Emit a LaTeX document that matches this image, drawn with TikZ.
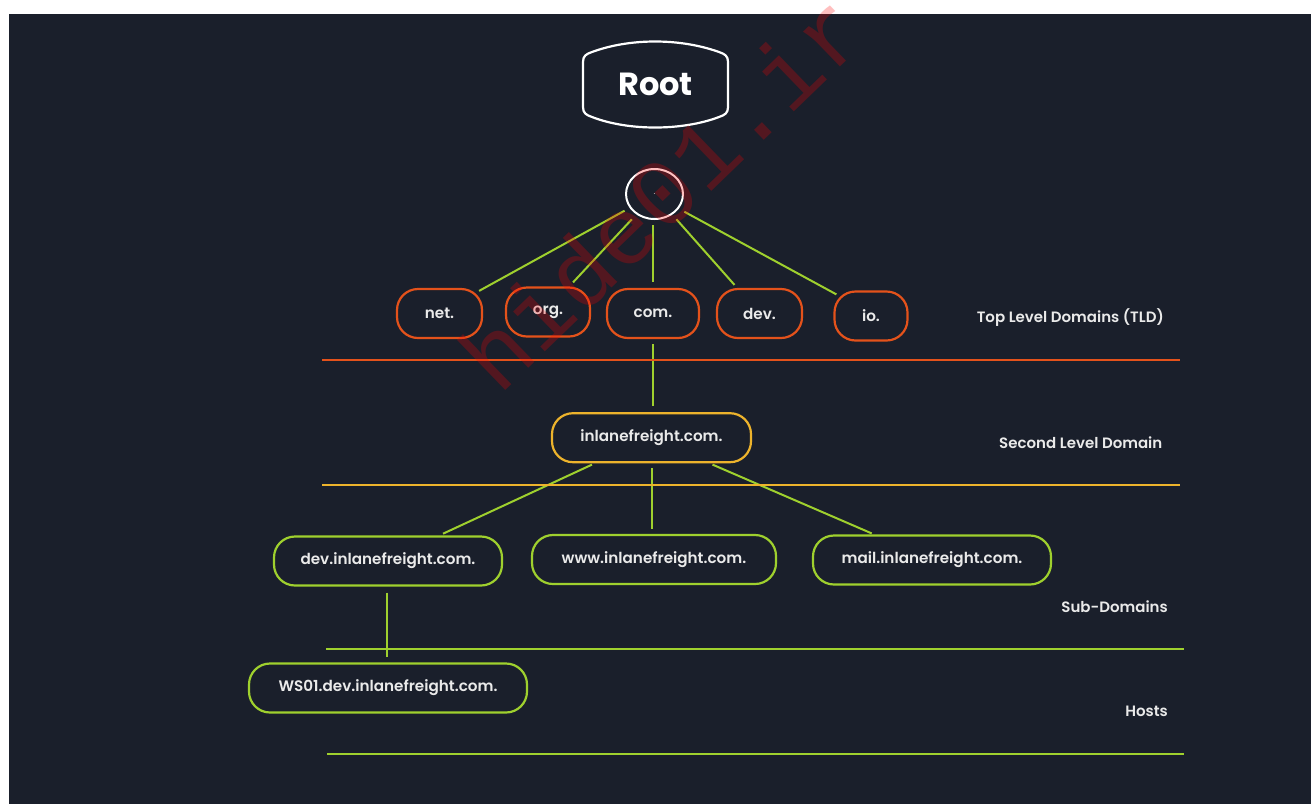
\documentclass[tikz,border=0pt]{standalone}
\usepackage{fontspec}
\setmainfont{Poppins}
\newfontfamily\pmed{Poppins Medium}
\newfontfamily\psemi{Poppins SemiBold}
\newfontfamily\wmfont{Liberation Mono}
\usetikzlibrary{calc,shapes.geometric}
\definecolor{bg}{HTML}{1A1F2B}
\definecolor{tldc}{HTML}{E4521B}
\definecolor{sldc}{HTML}{EDB32C}
\definecolor{grn}{HTML}{9FD02E}
\definecolor{txt}{HTML}{EAEAEA}
\begin{document}
\begin{tikzpicture}[x=1pt,y=-1pt,
  box/.style={draw, line width=2.2pt, rounded corners=21pt, minimum height=49pt,
    text=txt, font=\psemi\fontsize{15.2}{18}\selectfont, inner sep=0pt},
  tldbox/.style={box, draw=tldc},
  sldbox/.style={box, draw=sldc},
  grnbox/.style={box, draw=grn},
  conn/.style={draw=grn, line width=2pt},
  sep/.style={line width=2pt},
  lvl/.style={anchor=base east, text=txt, font=\psemi\fontsize{15}{18}\selectfont, inner sep=0pt}
]
\useasboundingbox (0,0) rectangle (1311,804);
\fill[white] (0,0) rectangle (1311,804);
\fill[bg] (9,14) rectangle (1311,804);

% Root
\node[text=white, font=\bfseries\fontsize{32}{32}\selectfont, inner sep=0pt] (root) at (655.5,84.5) {Root};
\draw[white, line width=2.2pt]
  (583,62) .. controls (583,56) and (586,54) .. (592,52)
  .. controls (630,38) and (680,38) .. (719,52)
  .. controls (725,54) and (728,56) .. (728,62)
  -- (728,107)
  .. controls (728,113) and (725,115) .. (719,117)
  .. controls (682,131) and (628,131) .. (592,117)
  .. controls (586,115) and (583,113) .. (583,107) -- cycle;

% dot
\node[ellipse, draw=white, line width=2pt, minimum width=57pt, minimum height=50pt,
  inner sep=0pt, text=txt, font=\fontsize{8}{8}\selectfont] (dot) at (654.5,194) {.};

% TLDs
\node[tldbox, minimum width=85pt] (net) at (439.5,313.5) {net.};
\node[tldbox, minimum width=84pt] (org) at (548,312) {org.};
\node[tldbox, minimum width=92pt] (com) at (653,313.5) {com.};
\node[tldbox, minimum width=85pt] (dev) at (759.5,313.5) {dev.};
\node[tldbox, minimum width=73pt] (io) at (871,316) {io.};

\draw[conn] ($(dot.center)+(-29.9,16.7)$) -- ($(net.north east)+(-4,3)$);
\draw[conn] ($(dot.center)+(-22.7,25.3)$) -- ($(org.north)+(25,-4)$);
\draw[conn] ($(com.north |- dot.south)+(0,5)$) -- ($(com.north)+(0,-6)$);
\draw[conn] ($(dot.center)+(21.9,25.3)$) -- ($(dev.north)+(-25,-3)$);
\draw[conn] ($(dot.center)+(29.8,17.7)$) -- ($(io.north west)+(3,4)$);

% SLD
\node[sldbox, minimum width=199pt] (sld) at (651.5,437.7) {inlanefreight.com.};
\draw[conn] ($(com.south)+(0,5)$) -- ($(com.south |- sld.north)+(0,-6)$);

% Sub-domains
\node[grnbox, minimum width=228pt] (sdev) at (388,561) {dev.inlanefreight.com.};
\node[grnbox, minimum width=244pt] (www) at (654,559.5) {www.inlanefreight.com.};
\node[grnbox, minimum width=238pt] (mail) at (932,560) {mail.inlanefreight.com.};
\draw[conn] ($(sld.south)+(-59.5,1.3)$) -- ($(sdev.north)+(55,-1.7)$);
\draw[conn] ($(sld.south)+(0.5,5)$) -- ($(sld.south |- www.north)+(0.5,-5)$);
\draw[conn] ($(sld.south)+(61,1.3)$) -- ($(mail.north)+(-60.3,-1)$);

% Host
\node[grnbox, minimum width=278pt] (ws) at (388,688) {WS01.dev.inlanefreight.com.};
\draw[conn] ($(sdev.south)+(-1,6)$) -- ($(ws.north)+(-1,-5)$);

% separators
\draw[sep, tldc] (322,360) -- (1180,360);
\draw[sep, sldc] (322,485) -- (1180,485);
\draw[sep, grn] (326,649) -- (1184,649);
\draw[sep, grn] (327,754) -- (1184,754);

% level labels
\node[lvl] (ltld) at (1164,322) {Top Level Domains (TLD)};
\node[lvl] (lsld) at (1162.5,448) {Second Level Domain};
\node[lvl] (lsub) at (1168,612.5) {Sub-Domains};
\node[lvl] (lhost) at (1168,716.5) {Hosts};

% watermark
\node[rotate=44, text=red, text opacity=0.25, font=\wmfont\fontsize{96}{96}\selectfont, inner sep=0pt] (wm) at (662,192) {hide01.ir};
\end{tikzpicture}
\end{document}
